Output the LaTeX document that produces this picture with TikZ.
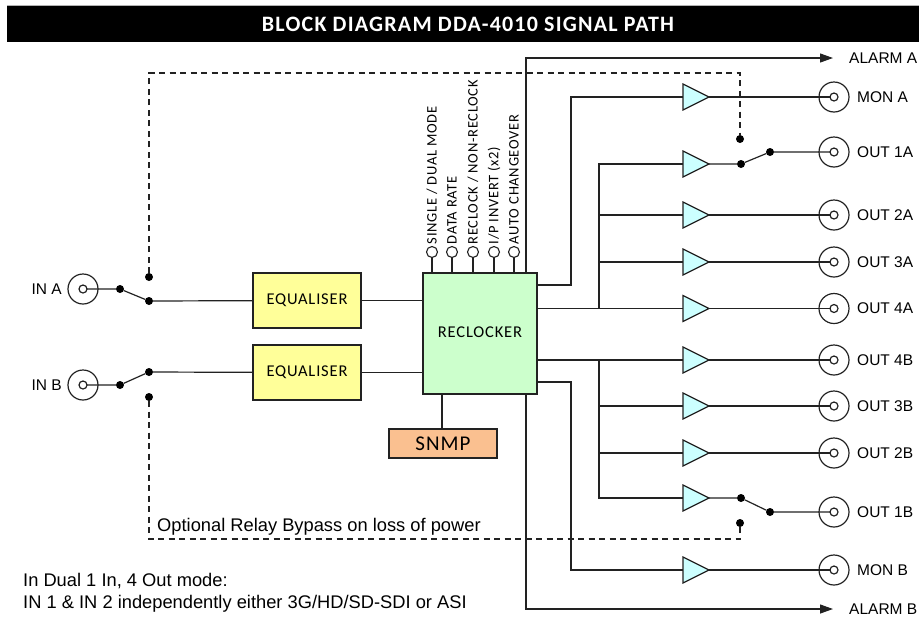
\documentclass[tikz,border=0pt]{standalone}
\usepackage{fontspec}
\setmainfont{Carlito}
\newfontfamily\arial{Liberation Sans}
\newfontfamily\spaced{Carlito}[LetterSpace=5]
\newfontfamily\titlefont{Carlito}[LetterSpace=5.5]
\usetikzlibrary{shapes.geometric,arrows.meta}
\definecolor{eqfill}{HTML}{FFFF99}
\definecolor{rcfill}{HTML}{CCFFCC}
\definecolor{ampfill}{HTML}{CCFFFF}
\definecolor{snmpfill}{HTML}{FAC090}
\definecolor{ln}{HTML}{222222}
\tikzset{
  x=1pt,y=-1pt,
  wire/.style={draw=ln,line width=1.2pt},
  relay/.style={draw=ln,line width=1.2pt,dash pattern=on 6pt off 4.5pt},
  blockbox/.style={draw=ln,line width=1.4pt,inner sep=0pt,outer sep=0pt,font=\spaced\fontsize{16.5}{19}\selectfont},
  eqbox/.style={blockbox,fill=eqfill,minimum width=108pt,minimum height=55pt},
  ampnode/.style={isosceles triangle,isosceles triangle stretches,draw=ln,line width=1.2pt,fill=ampfill,minimum width=26pt,minimum height=26pt,inner sep=0pt,outer sep=0pt,anchor=lower side},
  bnc/.style={circle,draw=ln,line width=1.2pt,minimum size=30pt,inner sep=0pt,outer sep=0pt},
  bnci/.style={circle,draw=ln,line width=1.2pt,fill=white,minimum size=8pt,inner sep=0pt,outer sep=0pt},
  dotnode/.style={circle,fill=black,minimum size=8pt,inner sep=0pt,outer sep=0pt},
  pin/.style={circle,draw=ln,line width=1.1pt,fill=white,minimum size=11pt,inner sep=0pt,outer sep=0pt},
  pinlabel/.style={rotate=90,anchor=west,inner sep=0pt,font=\spaced\fontsize{14.5}{17}\selectfont},
  lbl/.style={inner sep=0pt,font=\arial\fontsize{15.5}{18}\selectfont},
  note/.style={inner sep=0pt,font=\arial\fontsize{18.3}{22}\selectfont},
  arr/.style={wire,-{Triangle[length=13pt,width=9pt]}},
}
\begin{document}
\begin{tikzpicture}
\useasboundingbox (0,0) rectangle (921,619);
% header
\fill[black] (7,5) rectangle (919,42);
\draw[gray!60,line width=0.8pt] (7,5) -- (919,5);
\node[text=white,font=\titlefont\bfseries\fontsize{22}{26}\selectfont] (title) at (468,24) {BLOCK DIAGRAM DDA-4010 SIGNAL PATH};

% inputs
\node[bnc] (inA) at (83,289) {};
\node[bnci] (inAi) at (83,289) {};
\node[lbl,anchor=east] (inAl) at (62,289) {IN A};
\node[bnc] (inB) at (83,385) {};
\node[bnci] (inBi) at (83,385) {};
\node[lbl,anchor=east] (inBl) at (62,385) {IN B};

% input switches
\node[dotnode] (sa0) at (120,289) {};
\node[dotnode] (sa1) at (149,277) {};
\node[dotnode] (sa2) at (149,301) {};
\node[dotnode] (sb0) at (120,385) {};
\node[dotnode] (sb1) at (149,372) {};
\node[dotnode] (sb2) at (149,397) {};
\draw[wire] (inAi) -- (sa0) -- (sa2);
\draw[wire] (inBi) -- (sb0) -- (sb1);

% equalisers
\node[eqbox] (eqA) at (307,300.5) {EQUALISER};
\node[eqbox] (eqB) at (307,372.5) {EQUALISER};
\draw[wire] (sa2) -- (eqA);
\draw[wire] (sb1) -- (eqB);

% reclocker
\node[blockbox,fill=rcfill,minimum width=114pt,minimum height=121pt] (rc) at (480,333.5) {\raisebox{3pt}{RECLOCKER}};
\draw[wire] (eqA.east) -- (eqA.east -| rc.west);
\draw[wire] (eqB.east) -- (eqB.east -| rc.west);

% SNMP
\node[blockbox,fill=snmpfill,minimum width=108pt,minimum height=29pt,font=\spaced\fontsize{21}{24}\selectfont] (snmp) at (443,443.5) {SNMP};
\draw[wire] (snmp.north -| 442,0) -- (442,394);

% control pins
\foreach \px/\nm/\txt in {432/p1/{SINGLE / DUAL MODE},452/p2/{DATA RATE},473/p3/{RECLOCK / NON-RECLOCK},494/p4/{I/P INVERT (x2)},514/p5/{AUTO CHANGEOVER}}{
  \node[pin] (\nm) at (\px,252) {};
  \draw[wire] (\nm.south) -- (\px,273);
  \node[pinlabel] (\nm l) at (\px,244.5) {\txt};
}

% alarms
\coordinate (alA) at (833,58);
\coordinate (alB) at (833,609);
\draw[arr] (526,273) -- (526,58) -- (alA);
\draw[arr] (526,394) -- (526,609) -- (alB);
\node[lbl,anchor=west] (alAl) at (849,58) {ALARM A};
\node[lbl,anchor=west] (alBl) at (849,609) {ALARM B};

% amplifiers
\node[ampnode] (amA) at (683,97) {};
\node[ampnode] (a1A) at (683,164) {};
\node[ampnode] (a2A) at (683,215) {};
\node[ampnode] (a3A) at (683,262) {};
\node[ampnode] (a4A) at (683,308.5) {};
\node[ampnode] (a4B) at (683,360) {};
\node[ampnode] (a3B) at (683,406) {};
\node[ampnode] (a2B) at (683,453) {};
\node[ampnode] (a1B) at (683,498) {};
\node[ampnode] (amB) at (683,570) {};

% output connectors
\foreach \nm/\yy/\txt in {cmA/97/MON A,c1A/152/OUT 1A,c2A/215/OUT 2A,c3A/262/OUT 3A,c4A/308.5/OUT 4A,c4B/360/OUT 4B,c3B/406/OUT 3B,c2B/453/OUT 2B,c1B/512/OUT 1B,cmB/570/MON B}{
  \node[bnc] (\nm) at (834,\yy) {};
  \node[bnci] (\nm i) at (834,\yy) {};
  \node[lbl,anchor=west] (\nm l) at (857,\yy) {\txt};
}

% reclocker to amps
\draw[wire] (rc.east |- 0,285) -- (571,285) -- (571,97) -- (amA.lower side);
\draw[wire] (rc.east |- 0,382) -- (571,382) -- (571,570) -- (amB.lower side);
\draw[wire] (rc.east |- a4A.lower side) -- (a4A.lower side);
\draw[wire] (599,308.5) -- (599,164) -- (a1A.lower side);
\draw[wire] (599,215) -- (a2A.lower side);
\draw[wire] (599,262) -- (a3A.lower side);
\draw[wire] (rc.east |- a4B.lower side) -- (a4B.lower side);
\draw[wire] (599,360) -- (599,498) -- (a1B.lower side);
\draw[wire] (599,406) -- (a3B.lower side);
\draw[wire] (599,453) -- (a2B.lower side);

% amps to connectors
\draw[wire] (amA.apex) -- (cmAi);
\draw[wire] (a2A.apex) -- (c2Ai);
\draw[wire] (a3A.apex) -- (c3Ai);
\draw[wire] (a4A.apex) -- (c4Ai);
\draw[wire] (a4B.apex) -- (c4Bi);
\draw[wire] (a3B.apex) -- (c3Bi);
\draw[wire] (a2B.apex) -- (c2Bi);
\draw[wire] (amB.apex) -- (cmBi);

% output switches
\node[dotnode] (oa0) at (741,164) {};
\node[dotnode] (oa1) at (770,152) {};
\node[dotnode] (oa2) at (740,139) {};
\node[dotnode] (ob0) at (741,498) {};
\node[dotnode] (ob1) at (770,512) {};
\node[dotnode] (ob2) at (740,523) {};
\draw[wire] (a1A.apex) -- (oa0) -- (oa1) -- (c1Ai);
\draw[wire] (a1B.apex) -- (ob0) -- (ob1) -- (c1Bi);

% relay bypass
\draw[relay] (sa1) -- (149,73) -- (740,73) -- (oa2);
\draw[relay] (sb2) -- (149,539) -- (740,539) -- (ob2);
\node[note,anchor=base west] (bypass) at (157,531.5) {Optional Relay Bypass on loss of power};

% notes
\node[note,anchor=base west] (note1) at (23,586) {In Dual 1 In, 4 Out mode:};
\node[note,anchor=base west] (note2) at (23,608) {IN 1 \& IN 2 independently either 3G/HD/SD-SDI or ASI};
\end{tikzpicture}
\end{document}
